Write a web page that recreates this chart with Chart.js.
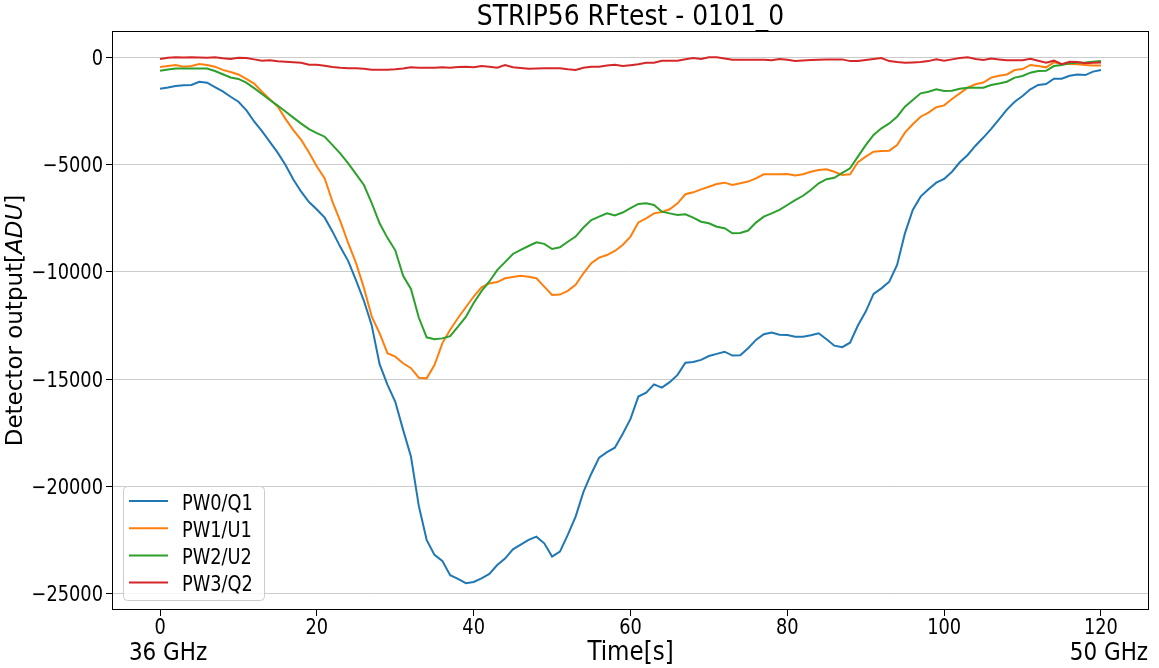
<!DOCTYPE html>
<html>
<head>
<meta charset="utf-8">
<title>STRIP56 RFtest - 0101_0</title>
<script src="https://cdn.jsdelivr.net/npm/chart.js@4.4.1/dist/chart.umd.min.js"></script>
<style>
    html, body { margin: 0; padding: 0; background: #ffffff; }
    #wrap { width: 1159px; height: 668px; position: relative; }
</style>
</head>
<body>
<div id="wrap"><canvas id="rfChart"></canvas></div>
<script>
// --- data (one sample per second) ---
const timeS = [0, 1, 2, 3, 4, 5, 6, 7, 8, 9,
    10, 11, 12, 13, 14, 15, 16, 17, 18, 19,
    20, 21, 22, 23, 24, 25, 26, 27, 28, 29,
    30, 31, 32, 33, 34, 35, 36, 37, 38, 39,
    40, 41, 42, 43, 44, 45, 46, 47, 48, 49,
    50, 51, 52, 53, 54, 55, 56, 57, 58, 59,
    60, 61, 62, 63, 64, 65, 66, 67, 68, 69,
    70, 71, 72, 73, 74, 75, 76, 77, 78, 79,
    80, 81, 82, 83, 84, 85, 86, 87, 88, 89,
    90, 91, 92, 93, 94, 95, 96, 97, 98, 99,
    100, 101, 102, 103, 104, 105, 106, 107, 108, 109,
    110, 111, 112, 113, 114, 115, 116, 117, 118, 119,
    120];

const pw0Q1 = [-1480, -1420, -1350, -1320, -1300, -1150, -1195, -1400, -1600, -1850,
    -2080, -2470, -3000, -3450, -3950, -4450, -5030, -5700, -6270, -6750,
    -7100, -7480, -8130, -8850, -9500, -10400, -11350, -12500, -14300, -15250,
    -16050, -17360, -18600, -20900, -22480, -23180, -23460, -24130, -24300, -24500,
    -24440, -24270, -24070, -23650, -23350, -22920, -22700, -22480, -22330, -22640,
    -23260, -23030, -22250, -21400, -20250, -19400, -18650, -18400, -18190, -17550,
    -16850, -15810, -15630, -15240, -15390, -15140, -14800, -14230, -14200, -14100,
    -13920, -13820, -13720, -13900, -13890, -13560, -13170, -12910, -12830, -12930,
    -12940, -13020, -13020, -12950, -12860, -13140, -13440, -13510, -13300, -12500,
    -11850, -11030, -10770, -10460, -9680, -8210, -7120, -6500, -6160, -5850,
    -5680, -5340, -4900, -4560, -4130, -3750, -3350, -2900, -2450, -2080,
    -1815, -1505, -1300, -1260, -1010, -1010, -870, -810, -840, -680,
    -605];

const pw1U1 = [-465, -420, -370, -450, -420, -330, -370, -450, -600, -700,
    -810, -1020, -1240, -1620, -1960, -2300, -2880, -3400, -3860, -4450,
    -5100, -5650, -6750, -7650, -8670, -9600, -10750, -12090, -12860, -13790,
    -13950, -14260, -14490, -14930, -14960, -14340, -13330, -12700, -12150, -11650,
    -11150, -10720, -10540, -10480, -10300, -10240, -10180, -10230, -10300, -10690,
    -11080, -11060, -10890, -10610, -10070, -9600, -9340, -9220, -9030, -8750,
    -8360, -7700, -7510, -7280, -7215, -7090, -6810, -6390, -6300, -6160,
    -6040, -5910, -5850, -5960, -5880, -5800, -5650, -5460, -5460, -5460,
    -5450, -5520, -5460, -5340, -5260, -5230, -5340, -5490, -5460, -4900,
    -4640, -4410, -4380, -4360, -4100, -3520, -3130, -2780, -2590, -2340,
    -2250, -1955, -1690, -1430, -1270, -1190, -960, -870, -810, -605,
    -560, -370, -420, -480, -250, -330, -330, -340, -370, -390,
    -400];

const pw2U2 = [-640, -580, -530, -530, -530, -530, -540, -650, -800, -950,
    -1020, -1195, -1450, -1720, -2000, -2260, -2540, -2820, -3100, -3360,
    -3540, -3710, -4100, -4500, -4950, -5450, -5960, -6800, -7740, -8420,
    -9000, -10190, -10800, -12130, -13050, -13140, -13100, -13000, -12550, -12100,
    -11450, -10900, -10450, -9920, -9550, -9170, -8980, -8800, -8630, -8700,
    -8940, -8860, -8600, -8360, -7940, -7590, -7430, -7280, -7380, -7240,
    -7040, -6840, -6810, -6890, -7200, -7280, -7350, -7320, -7480, -7670,
    -7740, -7900, -7970, -8210, -8190, -8080, -7710, -7430, -7280, -7120,
    -6890, -6660, -6460, -6190, -5880, -5690, -5620, -5390, -5180, -4640,
    -4100, -3630, -3320, -3090, -2780, -2310, -2000, -1690, -1615, -1505,
    -1580, -1570, -1475, -1430, -1430, -1430, -1300, -1230, -1150, -960,
    -885, -730, -650, -640, -420, -370, -295, -265, -250, -220,
    -190];

const pw3Q2 = [-95, -30, -15, -20, -15, -20, -30, -15, -60, -95,
    -30, -45, -110, -170, -155, -200, -220, -240, -265, -360,
    -360, -410, -465, -500, -525, -525, -550, -590, -590, -590,
    -570, -530, -480, -500, -500, -500, -480, -500, -470, -450,
    -480, -420, -450, -500, -370, -480, -510, -545, -530, -525,
    -525, -525, -570, -605, -500, -450, -450, -400, -360, -420,
    -380, -340, -265, -265, -170, -170, -170, -100, -45, -95,
    -15, -15, -70, -125, -125, -125, -125, -125, -155, -95,
    -125, -190, -165, -140, -130, -120, -110, -110, -190, -190,
    -140, -90, -45, -190, -235, -265, -250, -235, -190, -110,
    -170, -110, -45, -15, -95, -140, -65, -110, -155, -155,
    -155, -80, -170, -265, -170, -330, -220, -235, -290, -270,
    -250];

const seriesNames = ['PW0/Q1', 'PW1/U1', 'PW2/U2', 'PW3/Q2'];
const seriesValues = [pw0Q1, pw1U1, pw2U2, pw3Q2];
const seriesColors = ['#1f77b4', '#ff7f0e', '#2ca02c', '#d62728'];

const xTicks = [0, 20, 40, 60, 80, 100, 120];
const yTicks = [0, -5000, -10000, -15000, -20000, -25000];

const titleText = 'STRIP56 RFtest - 0101_0';
const xTitle = 'Time[s]';
const freqStart = '36 GHz';
const freqEnd = '50 GHz';

// --- text helpers (glyphs in the picture are a bit taller than wide) ---
const FONT = '"DejaVu Sans", sans-serif';
const SY = 1.18;

function drawText(ctx, txt, x, y, size, align, sy) {
    ctx.save();
    ctx.translate(x, y);
    ctx.scale(1, sy);
    ctx.font = size + 'px ' + FONT;
    ctx.textAlign = align;
    ctx.textBaseline = 'alphabetic';
    ctx.fillText(txt, 0, 0);
    ctx.restore();
}

const fmtTick = v => String(v).replace('-', '\u2212');

// frame, labels, title and legend in matplotlib style
const mplDecor = {
    id: 'mplDecor',
    afterDraw(chart) {
        const { ctx, chartArea: a, scales: { x, y } } = chart;
        ctx.save();
        ctx.fillStyle = '#000000';

        // spines
        ctx.strokeStyle = '#000000';
        ctx.lineWidth = 1;
        ctx.strokeRect(a.left - 0.5, a.top - 0.5, a.right - a.left + 1, a.bottom - a.top + 1);

        // tick labels
        yTicks.forEach(v => drawText(ctx, fmtTick(v), a.left - 10, y.getPixelForValue(v) + 7.5, 17.8, 'right', SY));
        xTicks.forEach(v => drawText(ctx, fmtTick(v), x.getPixelForValue(v), a.bottom + 24.5, 17.8, 'center', SY));

        // title + x labels
        drawText(ctx, titleText, (a.left + a.right) / 2, 25, 25, 'center', 1.14);
        drawText(ctx, xTitle, (a.left + a.right) / 2, 660, 23, 'center', 1.14);
        drawText(ctx, freqStart, x.getPixelForValue(0) + 8, 660, 21.5, 'center', 1.18);
        drawText(ctx, freqEnd, x.getPixelForValue(120) + 8, 660, 21.5, 'center', 1.18);

        // y label with italic unit
        ctx.save();
        ctx.translate(22, (a.top + a.bottom) / 2);
        ctx.rotate(-Math.PI / 2);
        ctx.textAlign = 'left';
        ctx.textBaseline = 'alphabetic';
        const parts = [['Detector output[', ''], ['ADU', 'italic '], [']', '']];
        let total = 0;
        parts.forEach(p => { ctx.font = p[1] + '23px ' + FONT; total += ctx.measureText(p[0]).width; });
        let cx = -total / 2;
        parts.forEach(p => {
            ctx.font = p[1] + '23px ' + FONT;
            ctx.fillText(p[0], cx, 0);
            cx += ctx.measureText(p[0]).width;
        });
        ctx.restore();

        // legend (lower left inside axes)
        const lx = a.left + 10, ly = a.bottom - 123, lw = 141, lh = 114;
        ctx.beginPath();
        ctx.roundRect(lx + 0.5, ly + 0.5, lw, lh, 4);
        ctx.fillStyle = 'rgba(255,255,255,0.8)';
        ctx.fill();
        ctx.strokeStyle = '#cccccc';
        ctx.stroke();
        seriesNames.forEach((name, i) => {
            const yy = ly + 15 + i * 27.2;
            ctx.beginPath();
            ctx.moveTo(lx + 6, yy);
            ctx.lineTo(lx + 45, yy);
            ctx.strokeStyle = seriesColors[i];
            ctx.lineWidth = 2;
            ctx.stroke();
            ctx.fillStyle = '#000000';
            drawText(ctx, name, lx + 59, yy + 8.5, 17.8, 'left', SY);
        });
        ctx.restore();
    }
};

document.addEventListener('DOMContentLoaded', () => {
    const datasets = seriesNames.map((name, i) => ({
        label: name,
        data: timeS.map((t, k) => ({ x: t, y: seriesValues[i][k] })),
        borderColor: seriesColors[i],
        backgroundColor: seriesColors[i],
        borderWidth: 2,
        pointRadius: 0,
        tension: 0,
        fill: false,
        order: seriesNames.length - 1 - i // later series on top, as in matplotlib
    }));

    new Chart(document.getElementById('rfChart'), {
        type: 'line',
        data: { datasets },
        options: {
            responsive: true,
            maintainAspectRatio: false,
            devicePixelRatio: 1,
            animation: false,
            layout: { padding: { top: 32, right: 11, left: 0, bottom: 0 } },
            plugins: {
                legend: { display: false },
                title: { display: false },
                tooltip: { enabled: false }
            },
            scales: {
                x: {
                    type: 'linear',
                    min: -6,
                    max: 126,
                    afterBuildTicks: s => { s.ticks = xTicks.map(v => ({ value: v })); },
                    afterFit: s => { s.height = 59; },
                    ticks: { display: false },
                    border: { display: false },
                    grid: { drawOnChartArea: false, drawTicks: true, tickLength: 7, tickColor: '#000000', tickWidth: 1 }
                },
                y: {
                    type: 'linear',
                    min: -25700,
                    max: 1165,
                    afterBuildTicks: s => { s.ticks = yTicks.map(v => ({ value: v })); },
                    afterFit: s => { s.width = 113; },
                    ticks: { display: false },
                    border: { display: false },
                    grid: { color: '#cccccc', lineWidth: 1, drawTicks: true, tickLength: 7, tickColor: '#000000', tickWidth: 1 }
                }
            }
        },
        plugins: [mplDecor]
    });
});
</script>
</body>
</html>
